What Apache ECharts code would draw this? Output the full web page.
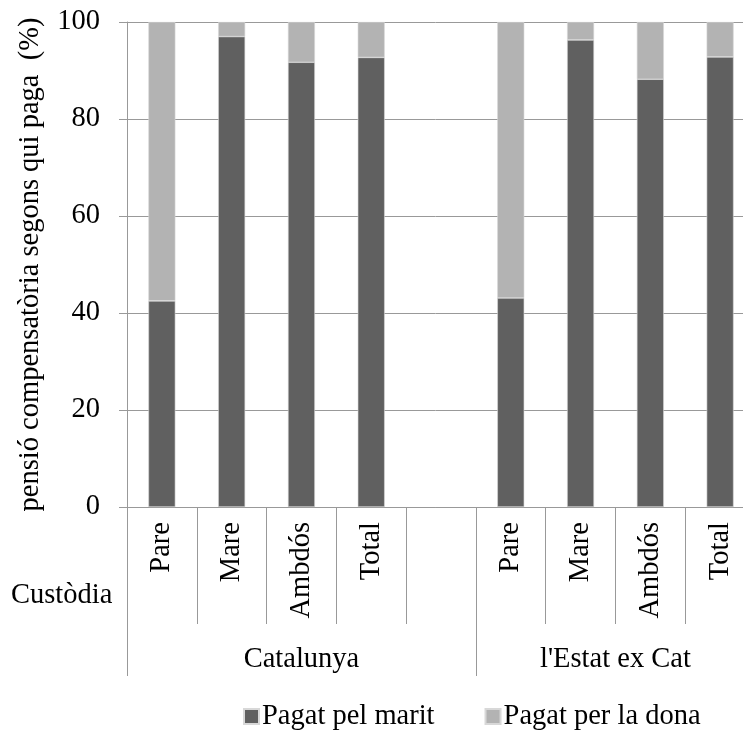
<!DOCTYPE html>
<html>
<head>
<meta charset="utf-8">
<script src="https://cdn.jsdelivr.net/npm/echarts@6/dist/echarts.min.js"></script>
<style>
html,body{margin:0;padding:0;background:#fff;}
#chart{width:743px;height:736px;}
</style>
</head>
<body>
<div id="chart"></div>
<script>
const categories = ['Pare', 'Mare', 'Ambdós', 'Total', '', 'Pare', 'Mare', 'Ambdós', 'Total'];
const paidByHusband = [42.5, 97.0, 91.7, 92.7, null, 43.1, 96.3, 88.2, 92.8];
const paidByWife = [57.5, 3.0, 8.3, 7.3, null, 56.9, 3.7, 11.8, 7.2];
const seriesNames = ['Pagat pel marit', 'Pagat per la dona'];
const groups = ['Catalunya', "l'Estat ex Cat"];
const groupSizes = [5, 4];
const yTicks = [0, 20, 40, 60, 80, 100];
const yTitle = 'pensió compensatòria segons qui paga  (%)';
const xTitle = 'Custòdia';

const FONT = '"Liberation Serif", "Times New Roman", Times, serif';
const FS = 28.5;
const AX = '#999999';

const bounds = [0];
groupSizes.forEach(s => bounds.push(bounds[bounds.length - 1] + s));
const centers = groupSizes.map((s, i) => bounds[i] + s / 2);

const chart = echarts.init(document.getElementById('chart'), null, {renderer: 'canvas'});
chart.setOption({
  animation: false,
  backgroundColor: '#fff',
  textStyle: {fontFamily: FONT, color: '#000'},
  grid: {left: 127, top: 22, width: 628, height: 485, containLabel: false, outerBoundsMode: 'none'},
  legend: {
    data: seriesNames,
    left: 238, top: 697,
    itemWidth: 15, itemHeight: 15, itemGap: 50,
    icon: 'rect',
    textStyle: {fontFamily: FONT, fontSize: FS, color: '#000', padding: [0, 0, 0, -2]}
  },
  graphic: [{
    type: 'text', left: 11, top: 581,
    style: {text: xTitle, fontFamily: FONT, fontSize: FS, fill: '#000'}
  }],
  xAxis: [{
    type: 'category',
    data: categories,
    axisLine: {lineStyle: {color: AX, width: 1}},
    axisTick: {show: true, interval: 0, length: 117, lineStyle: {color: AX}},
    axisLabel: {interval: 0, rotate: 90, margin: 15, fontFamily: FONT, fontSize: FS, color: '#000'},
    splitLine: {show: false}
  }, {
    type: 'value',
    min: 0, max: bounds[bounds.length - 1],
    position: 'bottom',
    axisLine: {show: false},
    axisTick: {show: true, customValues: bounds, length: 169, lineStyle: {color: AX}},
    axisLabel: {
      customValues: centers, margin: 138,
      fontFamily: FONT, fontSize: FS, color: '#000',
      formatter: v => groups[centers.indexOf(v)]
    },
    splitLine: {show: false}
  }],
  yAxis: {
    type: 'value',
    min: yTicks[0], max: yTicks[yTicks.length - 1], interval: yTicks[1] - yTicks[0],
    name: yTitle, nameLocation: 'middle', nameGap: 82, nameRotate: 90,
    nameTextStyle: {fontFamily: FONT, fontSize: FS, color: '#000'},
    axisLine: {show: true, lineStyle: {color: AX, width: 1}},
    axisTick: {show: true, length: 8, lineStyle: {color: AX}},
    axisLabel: {margin: 27, fontFamily: FONT, fontSize: FS, color: '#000'},
    splitLine: {show: true, lineStyle: {color: AX, width: 1}}
  },
  series: [{
    name: seriesNames[0], type: 'bar', stack: 'a', xAxisIndex: 0,
    data: paidByHusband, barWidth: 27,
    itemStyle: {color: '#606060', borderColor: '#d8d8d8', borderWidth: 0.6}
  }, {
    name: seriesNames[1], type: 'bar', stack: 'a', xAxisIndex: 0,
    data: paidByWife, barWidth: 27,
    itemStyle: {color: '#b3b3b3', borderColor: '#d8d8d8', borderWidth: 0.6}
  }]
});
</script>
</body>
</html>
